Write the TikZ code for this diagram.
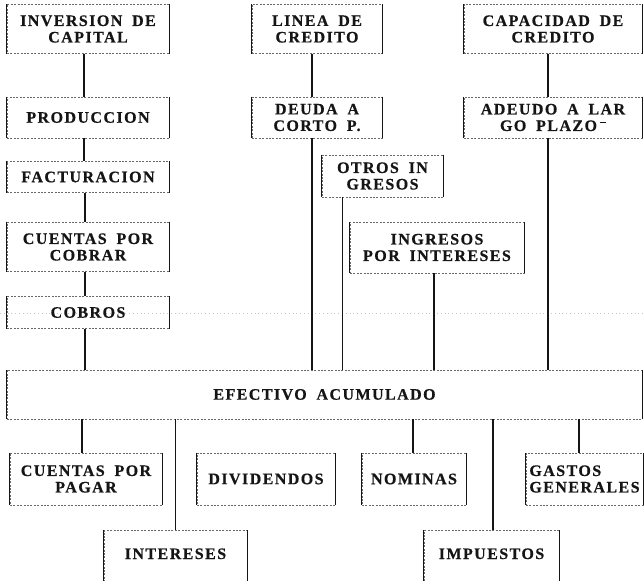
\documentclass[tikz,border=0pt]{standalone}
\usepackage{fontspec}
\newfontfamily\tw[LetterSpace=9,WordSpace=1.8,BoldFeatures={FakeBold=0.5}]{Liberation Serif}
\definecolor{ink}{HTML}{151515}
\definecolor{boxgray}{HTML}{6A6A6A}
\tikzset{
  boxside/.style={draw=ink, solid, line width=0.8pt},
  box/.style={draw=boxgray, dash pattern=on 2pt off 1.4pt, line width=0.5pt,
    inner sep=0pt, align=center, text=ink,
    font=\tw\bfseries\fontsize{16}{16.5}\selectfont,
    append after command={(\tikzlastnode.north west) edge[boxside] (\tikzlastnode.south west)
      (\tikzlastnode.north east) edge[boxside] (\tikzlastnode.south east)}},
  conn/.style={draw=ink, line width=1.2pt},
  noise/.style={draw=gray!45, line width=0.6pt, dash pattern=on 0.8pt off 3pt}
}
\begin{document}
\begin{tikzpicture}[x=1pt,y=-1pt]
\useasboundingbox (0,0) rectangle (644,580);
\clip (0,0) rectangle (644,580);
\fill[white] (0,0) rectangle (644,580);
\coordinate (nl) at (0,313);
\coordinate (nr) at (644,313);
\draw[noise] (nl) -- (nr);

% top rows
\node[box, minimum width=162pt, minimum height=49pt] (inv) at (88,29) {INVERSION DE\\CAPITAL};
\node[box, minimum width=130pt, minimum height=49pt] (lin) at (317,29) {LINEA DE\\CREDITO};
\node[box, minimum width=178pt, minimum height=49pt] (cap) at (553,29) {CAPACIDAD DE\\CREDITO};
\node[box, minimum width=162pt, minimum height=41pt] (prod) at (88,117.5) {PRODUCCION};
\node[box, minimum width=130pt, minimum height=41pt] (deu) at (317,117.5) {DEUDA A\\CORTO P.};
\node[box, minimum width=178pt, minimum height=41pt] (ade) at (553,117.5) {ADEUDO A LAR\\GO PLAZO\kern3pt\rule[8pt]{6pt}{0.8pt}};
\node[box, minimum width=162pt, minimum height=31pt] (fac) at (88,177) {FACTURACION};
\node[box, minimum width=121pt, minimum height=42pt] (otr) at (382.5,176) {OTROS IN\\GRESOS};
\node[box, minimum width=162pt, minimum height=49pt] (cxc) at (88,247) {CUENTAS POR\\COBRAR};
\node[box, minimum width=174pt, minimum height=51pt] (ing) at (437,247.5) {INGRESOS\\POR INTERESES};
\node[box, minimum width=162pt, minimum height=32pt] (cob) at (88,312.5) {COBROS};
\node[box, minimum width=635pt, minimum height=49pt] (efe) at (324.5,394.5) {EFECTIVO ACUMULADO};

% bottom rows
\node[box, minimum width=152pt, minimum height=52pt] (cxp) at (86,479) {CUENTAS POR\\PAGAR};
\node[box, minimum width=138pt, minimum height=52pt] (div) at (266,479) {DIVIDENDOS};
\node[box, minimum width=104pt, minimum height=52pt] (nom) at (414,479) {NOMINAS};
\node[box, minimum width=117pt, minimum height=52pt, align=left] (gas) at (584.5,479) {GASTOS\\GENERALES};
\node[box, minimum width=143pt, minimum height=69pt, text height=10pt, text depth=22pt] (int) at (175.5,565) {INTERESES};
\node[box, minimum width=135pt, minimum height=69pt, text height=10pt, text depth=22pt] (imp) at (491.5,565) {IMPUESTOS};

% left column
\draw[conn] ([xshift=-4pt]inv.south) -- ([xshift=-4pt]prod.north);
\draw[conn] ([xshift=-4pt]prod.south) -- ([xshift=-4pt]fac.north);
\draw[conn] ([xshift=-3pt]fac.south) -- ([xshift=-3pt]cxc.north);
\draw[conn] ([xshift=-3pt]cxc.south) -- ([xshift=-3pt]cob.north);
\draw[conn] ([xshift=-3pt]cob.south) -- ([xshift=-3pt]cob.south |- efe.north);
% middle column
\draw[conn] ([xshift=-5pt]lin.south) -- ([xshift=-5pt]deu.north);
\draw[conn] ([xshift=-5pt]deu.south) -- ([xshift=-5pt]deu.south |- efe.north);
\draw[conn] ([xshift=21pt]otr.south west) -- ([xshift=21pt]otr.south west |- efe.north);
\draw[conn] ([xshift=-3pt]ing.south) -- ([xshift=-3pt]ing.south |- efe.north);
% right column
\draw[conn] ([xshift=-5pt]cap.south) -- ([xshift=-5pt]ade.north);
\draw[conn] ([xshift=-5pt]ade.south) -- ([xshift=-5pt]ade.south |- efe.north);
% outputs
\draw[conn] ([xshift=-4pt]cxp.north |- efe.south) -- ([xshift=-4pt]cxp.north);
\draw[conn] (int.north |- efe.south) -- (int.north);
\draw[conn] ([xshift=-1pt]nom.north |- efe.south) -- ([xshift=-1pt]nom.north);
\draw[conn] ([xshift=1.5pt]imp.north |- efe.south) -- ([xshift=1.5pt]imp.north);
\draw[conn] ([xshift=-5.5pt]gas.north |- efe.south) -- ([xshift=-5.5pt]gas.north);
\end{tikzpicture}
\end{document}
